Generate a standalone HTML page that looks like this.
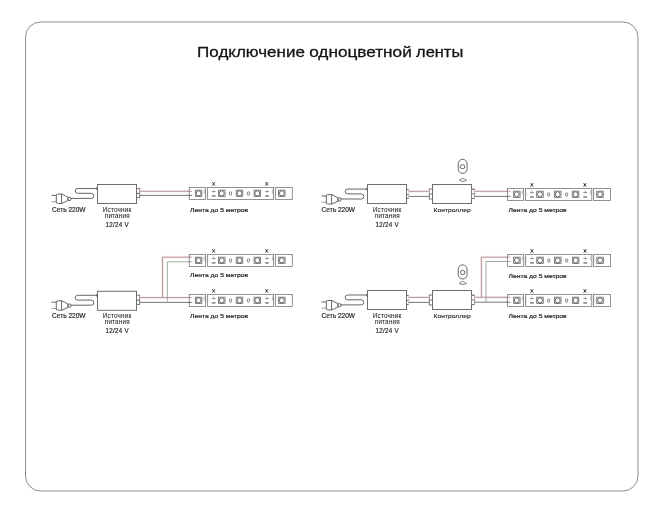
<!DOCTYPE html>
<html><head><meta charset="utf-8">
<style>
html,body{margin:0;padding:0;background:#fff;}
body{width:660px;height:513px;overflow:hidden;position:relative;}
svg{position:absolute;left:0;top:0;will-change:transform;}
text{font-family:"Liberation Sans",sans-serif;fill:#1e1e1e;}
.t{font-size:14.9px;fill:#141414;stroke:#141414;stroke-width:0.3px;}
.l{font-size:6.5px;stroke:#1e1e1e;stroke-width:0.16px;}
.s{font-size:6.3px;stroke:#222;stroke-width:0.05px;fill:#222;}
.rh{fill:none;stroke:#fcf0f0;stroke-width:2.8;}
.rc{fill:none;stroke:#ab8d91;stroke-width:0.9;}
.bk{fill:none;stroke:#666;stroke-width:0.9;}
.bl{fill:none;stroke:#98a098;stroke-width:0.9;}
</style></head>
<body>
<svg width="660" height="513" viewBox="0 0 660 513">
<defs>
  <!-- Plug + coiled cable, in D1 coords -->
  <g id="plug" fill="none" stroke="#555" stroke-width="0.9">
    <line x1="51.5" y1="195.4" x2="56.5" y2="195.4"/>
    <line x1="51.5" y1="201.7" x2="56.5" y2="201.7" stroke="#9a9a9a"/>
    <path d="M57.5,194 H62 L68,197.3 V200.5 L62,203.4 H57.5 Q56.3,203.4 56.3,202 V195.4 Q56.3,194 57.5,194 Z"/>
    <line x1="61.6" y1="194" x2="61.6" y2="203.4"/>
    <rect x="68" y="197.2" width="2.9" height="3.3" rx="1"/>
    <path d="M70.9,198.4 H91.3 A2.45,2.45 0 0 0 91.3,193.3 H77.6 A2.4,2.4 0 0 1 77.6,188.5 H97.5"/>
    <rect x="96.2" y="187.2" width="1.3" height="2.6" fill="#6a6a6a" stroke="none"/>
  </g>
  <!-- Power supply box -->
  <g id="psu" fill="none" stroke="#6e6e6e" stroke-width="1">
    <rect x="97.5" y="184.5" width="39" height="19"/>
    <rect x="136.5" y="188.4" width="3.2" height="9.2" stroke-width="0.9"/>
    <line x1="136.5" y1="193.4" x2="139.7" y2="193.4" stroke-width="1.1"/>
  </g>
  <g id="psu2" fill="none" stroke="#6e6e6e" stroke-width="1">
    <rect x="97.5" y="184.5" width="39" height="19"/>
    <path d="M136.5,189.5 H138.7 M136.5,194.5 H138.7 M136.5,198.5 H138.7" stroke-width="1"/>
    <path d="M138.7,189.5 V198.5" stroke="#aaa" stroke-width="0.6"/>
  </g>
  <!-- LED -->
  <g id="led">
    <rect x="-3.3" y="-3.2" width="6.6" height="6.4" fill="#f3f3f3" stroke="#666" stroke-width="0.75"/>
    <ellipse cx="0" cy="0" rx="2.45" ry="2.6" fill="#fff" stroke="#484848" stroke-width="0.85"/>
  </g>
  <g id="res">
    <rect x="-1.05" y="-1.7" width="2.1" height="3.4" rx="0.9" fill="#fff" stroke="#666" stroke-width="0.8"/>
  </g>
  <g id="pm">
    <line x1="-1.9" y1="-1.9" x2="1.9" y2="-1.9" stroke="#8a8a8a" stroke-width="0.9"/>
    <line x1="0" y1="-3.9" x2="0" y2="-0.6" stroke="#9a9a9a" stroke-width="0.7"/>
    <line x1="-1.9" y1="2.55" x2="1.9" y2="2.55" stroke="#808080" stroke-width="1.5"/>
  </g>
  <g id="xm">
    <path d="M-1.3,-1.7 L1.3,1.7 M1.3,-1.7 L-1.3,1.7" stroke="#222" stroke-width="0.9" fill="none"/>
  </g>
  <!-- LED strip, origin at strip left/top -->
  <g id="strip">
    <g fill="#fff" stroke="#777" stroke-width="0.8">
      <rect x="0" y="0" width="16.1" height="12"/>
      <rect x="18" y="0" width="66.3" height="12"/>
      <rect x="86" y="0" width="17" height="12"/>
    </g>
    <path d="M15.2,2.2 Q14.4,4.2 15.2,6.2 M18.3,3 V8.4" stroke="#888" stroke-width="0.6" fill="none"/>
    <path d="M83.4,2.2 Q82.6,4.2 83.4,6.2 M86.3,3 V8.4" stroke="#999" stroke-width="0.7" fill="none"/>
    <use href="#led" x="9.3" y="5.95"/>
    <use href="#led" x="32.45" y="5.95"/>
    <use href="#led" x="50.2" y="5.95"/>
    <use href="#led" x="68.05" y="5.95"/>
    <use href="#led" x="92.5" y="5.95"/>
    <use href="#res" x="41.2" y="6.1"/>
    <use href="#res" x="59.1" y="6.1"/>
    <use href="#pm" x="24.4" y="6"/>
    <use href="#pm" x="77.7" y="6"/>
    <use href="#xm" x="24.3" y="-3.5"/>
    <use href="#xm" x="77.4" y="-3.5"/>
  </g>
  <!-- Controller, in D2 coords -->
  <g id="ctrl" fill="none" stroke="#6e6e6e" stroke-width="1">
    <rect x="432.5" y="184.5" width="39" height="19"/>
    <rect x="429.3" y="189" width="3.2" height="10" stroke-width="0.9"/>
    <line x1="429.3" y1="194" x2="432.5" y2="194" stroke-width="0.9"/>
    <rect x="471.5" y="189.2" width="3" height="9.4" stroke-width="0.8" stroke="#888"/>
    <path d="M471.5,189.2 H474.5 M471.5,193.8 H474.5 M471.5,198.5 H474.5" stroke-width="0.9"/>
  </g>
  <rect id="rmt" x="458.2" y="159.3" width="8.9" height="14.1" rx="4.4" ry="4.6" fill="none" stroke="#555" stroke-width="0.9"/>
  <path id="sig" d="M459.2,180.4 Q462.8,176.6 466.6,180.4 Q462.8,182.6 459.2,180.4 Z" fill="none" stroke="#666" stroke-width="0.8"/>
  <g id="lblPsu">
    <text class="s" transform="translate(117.1,211.95)" text-anchor="middle" letter-spacing="0.2">Источник</text>
    <text class="s" transform="translate(117.3,217.85) scale(1,1.04)" text-anchor="middle" letter-spacing="0.2">питания</text>
    <text class="l" transform="translate(117.2,226.5) scale(1,1.18)" text-anchor="middle" letter-spacing="0.3" style="font-size:6.2px">12/24 V</text>
  </g>
  <text id="lblNet" class="l" transform="translate(52,211.9) scale(1.02,1)" style="font-size:6.45px">Сеть 220W</text>
  <text id="lblStrip" class="l" style="stroke-width:0.2px;font-size:6.15px" transform="translate(190,211.9) scale(1.1,1)">Лента до 5 метров</text>
  <text id="lblCtrl" class="l" style="stroke-width:0.12px;font-size:5.8px" transform="translate(433.6,212) scale(1.16,1)">Контроллер</text>
</defs>

<!-- Frame -->
<rect x="25.5" y="22" width="612.5" height="469" rx="15" ry="15" fill="none" stroke="#8c8c8c" stroke-width="1"/>

<!-- Title -->
<text class="t" x="197.1" y="56.8" textLength="107.8" lengthAdjust="spacingAndGlyphs">Подключение</text>
<text class="t" x="309.2" y="56.8" textLength="102.6" lengthAdjust="spacingAndGlyphs">одноцветной</text>
<text class="t" x="416.1" y="56.8" textLength="47.1" lengthAdjust="spacingAndGlyphs">ленты</text>

<!-- ===== Diagram 1 (top-left) ===== -->
<use href="#plug"/>
<use href="#psu"/>
<path class="rh" d="M139.7,191.3 H192"/>
<path class="rc" d="M139.7,191.3 H192"/>
<path class="bk" d="M139.7,195.4 H192"/>
<use href="#strip" x="189.3" y="187.4"/>
<use href="#lblNet"/>
<use href="#lblPsu"/>
<use href="#lblStrip"/>

<!-- ===== Diagram 2 (top-right) ===== -->
<use href="#plug" x="270" y="0.6"/>
<use href="#psu2" x="270"/>
<use href="#ctrl"/>
<use href="#rmt"/>
<rect x="460.2" y="164.9" width="4.5" height="3.6" rx="1.5" fill="none" stroke="#555" stroke-width="0.9"/>
<use href="#sig"/>
<path class="rh" d="M408.7,191.3 H429.3 M474.5,191.3 H510"/>
<path class="rc" d="M408.7,191.3 H429.3 M474.5,191.3 H510"/>
<path class="bk" d="M408.7,196.4 H429.3 M474.5,196.4 H510"/>
<use href="#strip" x="507.5" y="188.4"/>
<use href="#lblNet" x="269.5"/>
<use href="#lblPsu" x="270"/>
<use href="#lblCtrl"/>
<use href="#lblStrip" x="318.5"/>

<!-- ===== Diagram 3 (bottom-left) ===== -->
<use href="#plug" y="106.8"/>
<use href="#psu" y="106.8"/>
<path class="rh" d="M139.7,297.6 H192 M162.5,297.6 V257.2 H192"/>
<path class="rc" d="M139.7,297.6 H192 M162.5,297.6 V257.2 H192"/>
<path class="bk" d="M139.7,302.4 H192"/>
<path class="bl" d="M167.3,302.4 V261.8 H192"/>
<use href="#strip" x="189.3" y="254.4"/>
<use href="#strip" x="189.3" y="294.4"/>
<use href="#lblNet" y="106"/>
<use href="#lblPsu" y="106"/>
<use href="#lblStrip" y="65"/>
<use href="#lblStrip" y="106.2"/>

<!-- ===== Diagram 4 (bottom-right) ===== -->
<use href="#plug" x="270" y="106.5"/>
<use href="#psu2" x="270" y="106"/>
<use href="#ctrl" y="106"/>
<use href="#rmt" y="105.6"/>
<circle cx="462.65" cy="272.5" r="2.2" fill="none" stroke="#555" stroke-width="0.9"/>
<use href="#sig" y="103.1"/>
<path class="rh" d="M408.7,297.4 H429.3"/>
<path class="rc" d="M408.7,297.4 H429.3"/>
<path class="bk" d="M408.7,302.4 H429.3"/>
<path class="rh" d="M474.5,297.3 H510 M481.4,297.3 V257.2 H510"/>
<path class="rc" d="M474.5,297.3 H510 M481.4,297.3 V257.2 H510"/>
<path class="bk" d="M474.5,302.2 H510"/>
<path class="bl" d="M486,302.2 V261.5 H510"/>
<use href="#strip" x="507.6" y="254.4"/>
<use href="#strip" x="507.5" y="294.4"/>
<use href="#lblNet" x="269.5" y="106"/>
<use href="#lblPsu" x="270" y="106.2"/>
<use href="#lblCtrl" y="106.2"/>
<use href="#lblStrip" x="318.5" y="66"/>
<use href="#lblStrip" x="318.5" y="106.2"/>
<!-- wire stubs entering strips -->
<path class="rc" d="M188,191.3 H192.2 M506.5,191.3 H510.4 M188,257.2 H192.2 M188,297.6 H192.2 M506.5,257.2 H510.4 M506.5,297.3 H510.4"/>
<path class="bk" d="M188,195.4 H192.2 M506.5,196.4 H510.4 M188,302.4 H192.2 M506.5,302.2 H510.4"/>
<path class="bl" d="M188,261.8 H192.2 M506.5,261.5 H510.4"/>
</svg>
</body></html>
